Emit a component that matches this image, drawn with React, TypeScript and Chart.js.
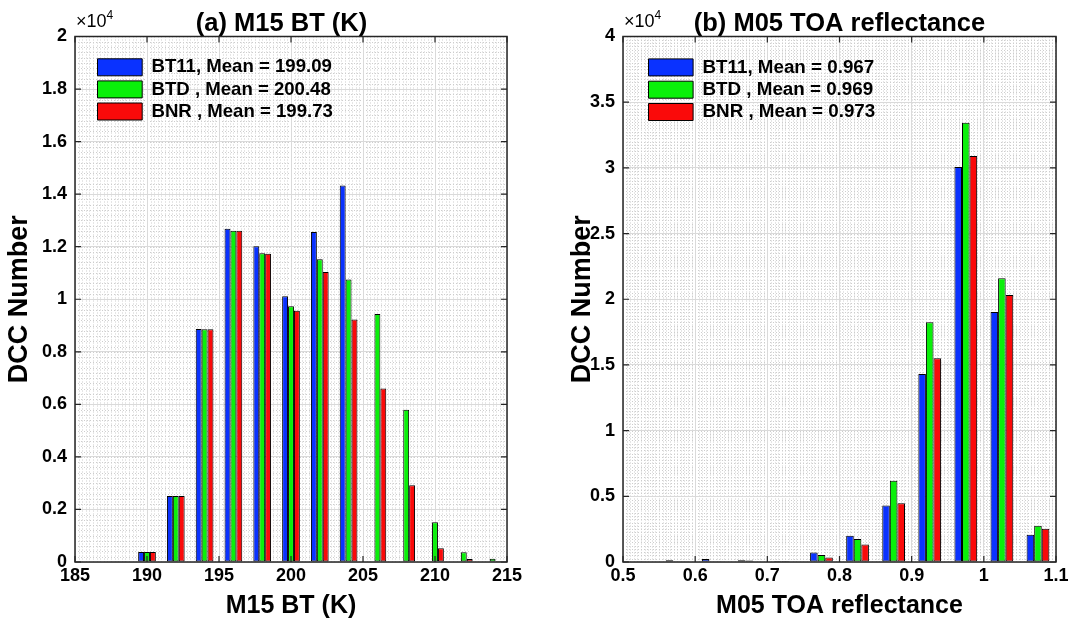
import { useEffect, useRef } from 'react';
import { Chart, registerables } from 'chart.js';

Chart.register(...registerables);

const FONT = "'Liberation Sans', Arial, Helvetica, sans-serif";
Chart.defaults.font.family = FONT;

// Series names and colours shared by both panels
const seriesNames = ['BT11', 'BTD', 'BNR'];
const seriesColors = ['#0a32ff', '#0af00a', '#fa0a0a'];

// (a) M15 brightness temperature, 2 K bins
const btBinCenters = [188, 190, 192, 194, 196, 198, 200, 202, 204, 206, 208, 210, 212, 214];
const btCountsBT11 = [30, 380, 2510, 8870, 12680, 12020, 10110, 12560, 14330, 0, 0, 0, 0, 0];
const btCountsBTD = [25, 380, 2510, 8860, 12610, 11750, 9730, 11520, 10750, 9440, 5790, 1510, 370, 120];
const btCountsBNR = [25, 380, 2510, 8860, 12610, 11730, 9560, 11040, 9230, 6600, 2920, 520, 115, 40];
const btMeans = ['199.09', '200.48', '199.73'];

// (b) M05 TOA reflectance, 0.05 bins
const refBinCenters = [0.525, 0.575, 0.625, 0.675, 0.725, 0.775, 0.825, 0.875, 0.925, 0.975, 1.025, 1.075];
const refCountsBT11 = [30, 130, 230, 130, 80, 730, 2000, 4310, 14310, 30070, 19030, 2080];
const refCountsBTD = [10, 20, 20, 120, 70, 530, 1750, 6180, 18240, 33440, 21590, 2760];
const refCountsBNR = [0, 10, 10, 40, 30, 350, 1340, 4480, 15510, 30910, 20320, 2530];
const refMeans = ['0.967', '0.969', '0.973'];

const legendText = (name: string, mean: string) =>
  `${name.length < 4 ? name + ' ' : name}, Mean = ${mean}`;

type Panel = {
  title: string;
  xTitle: string;
  bins: number[];
  series: number[][];
  means: string[];
  xMin: number;
  xMax: number;
  xStep: number;
  xMinor: number;
  yMax: number;
  yStep: number;
  yMinor: number;
  groupWidth: number;
  yAxisWidth: number;
  rightWidth: number;
  titleFullSize: boolean;
  legendFont: number;
  legendDx: number;
  xLabel: (v: number) => string;
};

const panels: Panel[] = [
  {
    title: '(a) M15 BT (K)',
    xTitle: 'M15 BT (K)',
    bins: btBinCenters,
    series: [btCountsBT11, btCountsBTD, btCountsBNR],
    means: btMeans,
    xMin: 185,
    xMax: 215,
    xStep: 5,
    xMinor: 0.25,
    yMax: 20000,
    yStep: 2000,
    yMinor: 200,
    groupWidth: 0.615,
    yAxisWidth: 75,
    rightWidth: 56,
    titleFullSize: true,
    legendFont: 18.6,
    legendDx: 19,
    xLabel: (v) => String(Math.round(v)),
  },
  {
    title: '(b) M05 TOA reflectance',
    xTitle: 'M05 TOA reflectance',
    bins: refBinCenters,
    series: [refCountsBT11, refCountsBTD, refCountsBNR],
    means: refMeans,
    xMin: 0.5,
    xMax: 1.1,
    xStep: 0.1,
    xMinor: 0.005,
    yMax: 40000,
    yStep: 5000,
    yMinor: 250,
    groupWidth: 0.63,
    yAxisWidth: 60,
    rightWidth: 13,
    titleFullSize: false,
    legendFont: 18.8,
    legendDx: 22,
    xLabel: (v) => String(Math.round(v * 100) / 100),
  },
];

const AXIS_COLOR = '#262626';

// MATLAB-style axes: dotted minor grid, boxed frame with inward ticks, ×10^4 exponent
const matlabAxes = (p: Panel) => ({
  id: 'matlabAxes',
  beforeDraw(chart: any) {
    const { ctx, chartArea: a, scales } = chart;
    const x = scales.x;
    const y = scales.y;

    const lg = chart.legend;
    if (lg) {
      lg.left = a.left + p.legendDx;
      lg.top = a.top + 18;
      lg.bottom = a.bottom;
    }

    ctx.save();
    ctx.beginPath();
    ctx.rect(a.left, a.top, a.right - a.left, a.bottom - a.top);
    ctx.clip();
    ctx.strokeStyle = '#cdcdcd';
    ctx.lineWidth = 1;
    ctx.setLineDash([1, 2]);
    const nx = Math.round((p.xMax - p.xMin) / p.xMinor);
    for (let i = 1; i < nx; i++) {
      const px = Math.round(x.getPixelForValue(p.xMin + i * p.xMinor)) + 0.5;
      ctx.beginPath();
      ctx.moveTo(px, a.top);
      ctx.lineTo(px, a.bottom);
      ctx.stroke();
    }
    const ny = Math.round(p.yMax / p.yMinor);
    for (let i = 1; i < ny; i++) {
      const py = Math.round(y.getPixelForValue(i * p.yMinor)) + 0.5;
      ctx.beginPath();
      ctx.moveTo(a.left, py);
      ctx.lineTo(a.right, py);
      ctx.stroke();
    }
    ctx.restore();
  },
  afterDatasetsDraw(chart: any) {
    const { ctx, chartArea: a, scales } = chart;
    const x = scales.x;
    const y = scales.y;
    const tick = 6;
    ctx.save();
    ctx.setLineDash([]);
    ctx.strokeStyle = AXIS_COLOR;
    ctx.lineWidth = 1.2;
    ctx.beginPath();
    for (const t of x.ticks) {
      const px = x.getPixelForValue(t.value);
      ctx.moveTo(px, a.bottom);
      ctx.lineTo(px, a.bottom - tick);
      ctx.moveTo(px, a.top);
      ctx.lineTo(px, a.top + tick);
    }
    for (const t of y.ticks) {
      const py = y.getPixelForValue(t.value);
      ctx.moveTo(a.left, py);
      ctx.lineTo(a.left + tick, py);
      ctx.moveTo(a.right, py);
      ctx.lineTo(a.right - tick, py);
    }
    ctx.stroke();
    ctx.lineWidth = 1.5;
    ctx.strokeRect(a.left, a.top, a.right - a.left, a.bottom - a.top);
    ctx.restore();
  },
  afterDraw(chart: any) {
    const { ctx, chartArea: a } = chart;
    ctx.save();
    ctx.fillStyle = '#000';
    ctx.textAlign = 'left';
    ctx.textBaseline = 'alphabetic';
    ctx.font = `18px ${FONT}`;
    const base = '\u00d710';
    ctx.fillText(base, a.left + 1, a.top - 10);
    const w = ctx.measureText(base).width;
    ctx.font = `12px ${FONT}`;
    ctx.fillText('4', a.left + 1 + w, a.top - 18);
    ctx.restore();
  },
});

function makeConfig(p: Panel): any {
  const tickFont = { size: 18, weight: 'bold' as const };
  const labelFont = { size: 25, weight: 'bold' as const, lineHeight: 1.2 };
  return {
    type: 'bar',
    data: {
      datasets: p.series.map((vals, i) => ({
        label: legendText(seriesNames[i], p.means[i]),
        data: p.bins.map((b, j) => ({ x: b, y: vals[j] })),
        backgroundColor: seriesColors[i],
        borderColor: '#000',
        borderWidth: 1,
        borderSkipped: false,
        barPercentage: 1,
        categoryPercentage: p.groupWidth,
      })),
    },
    options: {
      responsive: false,
      animation: false,
      events: [],
      layout: { padding: 0 },
      plugins: {
        tooltip: { enabled: false },
        title: {
          display: true,
          text: p.title,
          color: '#000',
          fullSize: p.titleFullSize,
          font: { size: 25.5, weight: 'bold', lineHeight: 1 },
          padding: { top: 11, bottom: 0 },
        },
        legend: {
          position: 'chartArea',
          align: 'start',
          labels: {
            color: '#000',
            font: { size: p.legendFont, weight: 'bold' },
            boxWidth: 54 - p.legendFont / 2,
            boxHeight: 17,
            padding: 3.5,
          },
        },
      },
      scales: {
        x: {
          type: 'linear',
          min: p.xMin,
          max: p.xMax,
          offset: false,
          grid: { offset: false, color: '#dadada', lineWidth: 1, drawTicks: false },
          border: { display: false },
          ticks: {
            stepSize: p.xStep,
            color: '#000',
            font: tickFont,
            padding: 3,
            maxRotation: 0,
            autoSkip: false,
            callback: (v: number) => p.xLabel(Number(v)),
          },
          title: {
            display: true,
            text: p.xTitle,
            color: '#000',
            font: labelFont,
            padding: { top: 0, bottom: 0 },
          },
          afterFit: (s: any) => {
            s.height = 59;
            s.paddingLeft = 0;
            s.paddingRight = 0;
          },
        },
        y: {
          type: 'linear',
          min: 0,
          max: p.yMax,
          grid: { color: '#dadada', lineWidth: 1, drawTicks: false },
          border: { display: false },
          ticks: {
            stepSize: p.yStep,
            color: '#000',
            font: tickFont,
            padding: 8,
            callback: (v: number) => String(Math.round(Number(v) / 1000) / 10),
          },
          title: {
            display: true,
            text: 'DCC Number',
            color: '#000',
            font: { size: 27, weight: 'bold', lineHeight: 1.2 },
            padding: { top: 3, bottom: 0 },
          },
          afterFit: (s: any) => {
            s.width = p.yAxisWidth;
            s.paddingTop = 0;
            s.paddingBottom = 0;
          },
        },
        // mirrored right-hand axis of the box; its ticks are drawn by the frame
        yMirror: {
          type: 'linear',
          position: 'right',
          min: 0,
          max: p.yMax,
          grid: { display: false, drawTicks: false },
          border: { display: false },
          ticks: { display: false },
          afterFit: (s: any) => {
            s.width = p.rightWidth;
            s.paddingTop = 0;
            s.paddingBottom = 0;
          },
        },
      },
    },
    plugins: [matlabAxes(p)],
  };
}

function HistogramPanel({ panel, left, width }: { panel: Panel; left: number; width: number }) {
  const ref = useRef<HTMLCanvasElement | null>(null);
  useEffect(() => {
    if (!ref.current) return;
    const chart = new Chart(ref.current, makeConfig(panel));
    return () => chart.destroy();
  }, [panel]);
  return (
    <canvas
      ref={ref}
      width={width}
      height={621}
      style={{ position: 'absolute', left, top: 0, width, height: 621, display: 'block' }}
    />
  );
}

export default function App() {
  return (
    <div
      style={{
        position: 'fixed',
        left: 0,
        top: 0,
        width: 1069,
        height: 621,
        background: '#fff',
        overflow: 'hidden',
      }}
    >
      <HistogramPanel panel={panels[0]} left={0} width={563} />
      <HistogramPanel panel={panels[1]} left={563} width={506} />
    </div>
  );
}
